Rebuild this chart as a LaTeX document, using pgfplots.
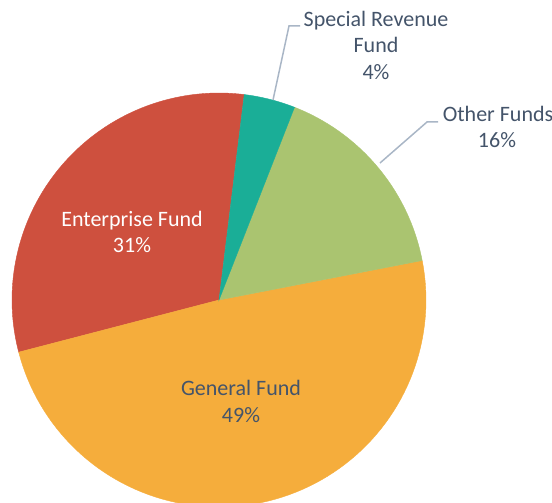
\documentclass[border=0pt]{standalone}
\usepackage{pgfplots}
\pgfplotsset{compat=1.18}
\usepackage{pgfplotstable}
\usepackage{fontspec}
\setmainfont{Carlito}

\definecolor{entc}{HTML}{CE503E}
\definecolor{genc}{HTML}{F5AD3C}
\definecolor{othc}{HTML}{AAC470}
\definecolor{spec}{HTML}{1AAE97}
\definecolor{txtc}{HTML}{44546A}
\definecolor{leadc}{HTML}{A9B6C6}

% shares in percent, counter-clockwise from the top edge of Enterprise Fund
\pgfplotstableread{
name value
Enterprise 31
General 49
Other 16
Special 4
}\piedata

\def\cumangle{83}
\newcommand\slice[2]{%
  \pgfmathsetmacro\sa{\cumangle}%
  \pgfmathsetmacro\sb{\cumangle+3.6*#1}%
  \edef\doslice{\noexpand\addplot[fill=#2, draw=#2, line width=0.4pt, domain=\sa:\sb, samples=90, variable=\noexpand\t]
    ({219+207*cos(\noexpand\t)},{-300+207*sin(\noexpand\t)}) -- (axis cs:219,-300) -- cycle;}%
  \doslice
  \xdef\cumangle{\sb}%
}

\begin{document}
\begin{tikzpicture}
\begin{axis}[
  width=552pt, height=503pt, scale only axis,
  xmin=0, xmax=552, ymin=-503, ymax=0,
  hide axis,
]
\pgfplotstablegetelem{0}{value}\of\piedata \slice{\pgfplotsretval}{entc}
\pgfplotstablegetelem{1}{value}\of\piedata \slice{\pgfplotsretval}{genc}
\pgfplotstablegetelem{2}{value}\of\piedata \slice{\pgfplotsretval}{othc}
\pgfplotstablegetelem{3}{value}\of\piedata \slice{\pgfplotsretval}{spec}

% leader lines
\addplot[leadc, line width=1.5pt] coordinates {(273,-100) (289,-26) (300,-26)};
\addplot[leadc, line width=1.5pt] coordinates {(380,-163) (427,-122) (438,-122)};

% labels
\node[anchor=base, text=white, font=\fontsize{22}{26.5}\selectfont] at (axis cs:132,-227) {Enterprise Fund};
\node[anchor=base, text=white, font=\fontsize{22}{26.5}\selectfont] at (axis cs:132,-253) {31\%};
\node[anchor=base, text=txtc, font=\fontsize{22}{26.5}\selectfont] at (axis cs:241,-396) {General Fund};
\node[anchor=base, text=txtc, font=\fontsize{22}{26.5}\selectfont] at (axis cs:241,-423) {49\%};
\node[anchor=base, text=txtc, font=\fontsize{22}{26.5}\selectfont] at (axis cs:376,-27) {Special Revenue};
\node[anchor=base, text=txtc, font=\fontsize{22}{26.5}\selectfont] at (axis cs:376,-53) {Fund};
\node[anchor=base, text=txtc, font=\fontsize{22}{26.5}\selectfont] at (axis cs:376,-80) {4\%};
\node[anchor=base, text=txtc, font=\fontsize{22}{26.5}\selectfont] at (axis cs:498,-122) {Other Funds};
\node[anchor=base, text=txtc, font=\fontsize{22}{26.5}\selectfont] at (axis cs:497,-148) {16\%};
\end{axis}
\pgfresetboundingbox
\useasboundingbox (current axis.south west) rectangle (current axis.north east);
\end{tikzpicture}
\end{document}
